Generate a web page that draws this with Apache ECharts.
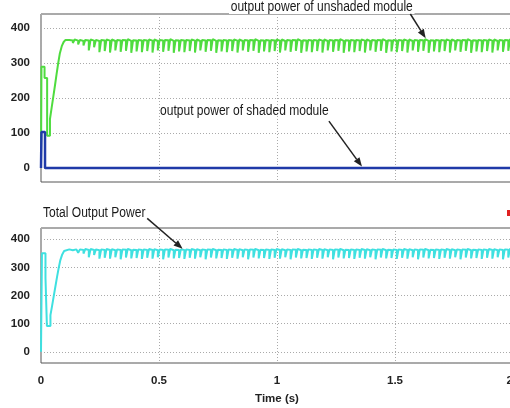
<!DOCTYPE html>
<html><head><meta charset="utf-8">
<script src="https://cdn.jsdelivr.net/npm/echarts@6/dist/echarts.min.js"></script>
<style>html,body{margin:0;padding:0;background:#fff}#c{width:510px;height:408px}</style>
</head><body><div id="c"></div>
<script>
// ---- data ----
const yTicks = [0, 100, 200, 300, 400];
const xTicks = [0, 0.5, 1, 1.5, 2];
const xLabel = 'Time (s)';

// start-up transients: [time (s), power (W)]
const unshadedStart = [[0,0],[0.002,289],[0.015,257],[0.026,92],[0.038,140],[0.045,172],[0.052,203],[0.059,235],[0.066,268],[0.073,300],[0.080,328],[0.088,348],[0.096,360],[0.104,366]];
const shadedStart = [[0,0],[0.002,103],[0.017,0],[2.05,0]];
const totalStart = [[0,0],[0.004,350],[0.019,262],[0.025,92],[0.040,130],[0.047,163],[0.054,198],[0.061,232],[0.068,266],[0.075,298],[0.082,326],[0.090,346],[0.098,358],[0.106,364]];

// steady-state ripple, sampled uniformly from steadyStartT every steadyDt seconds
const steadyStartT = 0.12;
const steadyDt = 0.0075;
const unshadedSteady = [
366,364,357,367,364,353, 366,363,350,366,364,336, 367,364,345,366,363,331,
366,364,334,367,364,330, 367,363,336,366,364,332, 366,365,335,368,363,329, 365,364,333,366,364,331,
366,364,334,367,364,330, 367,363,336,366,364,332, 366,365,335,368,363,329, 365,364,333,366,364,331,
366,364,334,367,364,330, 367,363,336,366,364,332, 366,365,335,368,363,329, 365,364,333,366,364,331,
366,364,334,367,364,330, 367,363,336,366,364,332, 366,365,335,368,363,329, 365,364,333,366,364,331,
366,364,334,367,364,330, 367,363,336,366,364,332, 366,365,335,368,363,329, 365,364,333,366,364,331,
366,364,334,367,364,330, 367,363,336,366,364,332, 366,365,335,368,363,329, 365,364,333,366,364,331,
366,364,334,367,364,330, 367,363,336,366,364,332, 366,365,335,368,363,329, 365,364,333,366,364,331,
366,364,334,367,364,330, 367,363,336,366,364,332, 366,365,335,368,363,329, 365,364,333,366,364,331,
366,364,334,367,364,330, 367,363,336,366,364,332, 366,365,335,368,363,329, 365,364,333,366,364,331,
366,364,334,367,364,330, 367,363,336,366,364,332, 366,365,335,368,363,329, 365,364,333,366,364,331,
366,364,334,367,364,330, 367,363,336,366,364,332, 366,365,335,368,363,329, 365,364,333,366,364,331
];
const totalSteady = [
363,361,356,364,362,352, 364,362,349,365,362,336, 365,362,344,364,361,331,
364,362,334,365,362,331, 365,361,336,364,362,329, 364,363,335,366,361,332, 363,362,333,364,362,330,
364,362,334,365,362,331, 365,361,336,364,362,329, 364,363,335,366,361,332, 363,362,333,364,362,330,
364,362,334,365,362,331, 365,361,336,364,362,329, 364,363,335,366,361,332, 363,362,333,364,362,330,
364,362,334,365,362,331, 365,361,336,364,362,329, 364,363,335,366,361,332, 363,362,333,364,362,330,
364,362,334,365,362,331, 365,361,336,364,362,329, 364,363,335,366,361,332, 363,362,333,364,362,330,
364,362,334,365,362,331, 365,361,336,364,362,329, 364,363,335,366,361,332, 363,362,333,364,362,330,
364,362,334,365,362,331, 365,361,336,364,362,329, 364,363,335,366,361,332, 363,362,333,364,362,330,
364,362,334,365,362,331, 365,361,336,364,362,329, 364,363,335,366,361,332, 363,362,333,364,362,330,
364,362,334,365,362,331, 365,361,336,364,362,329, 364,363,335,366,361,332, 363,362,333,364,362,330,
364,362,334,365,362,331, 365,361,336,364,362,329, 364,363,335,366,361,332, 363,362,333,364,362,330,
364,362,334,365,362,331, 365,361,336,364,362,329, 364,363,335,366,361,332, 363,362,333,364,362,330
];

// annotations: text and arrow [from, to] in data coordinates
const annUnshaded = {text: 'output power of unshaded module', from: [1.565, 440], to: [1.63, 371]};
const annShaded = {text: 'output power of shaded module', from: [1.22, 134], to: [1.36, 4]};
const annTotal = {text: 'Total Output Power', from: [0.45, 474], to: [0.60, 366]};

// ---- build ----
function withSteady(start, steady) {
  const out = start.slice();
  steady.forEach((v, i) => out.push([steadyStartT + i * steadyDt, v]));
  return out;
}
const FONT = "'Liberation Sans',Arial,sans-serif";
const chart = echarts.init(document.getElementById('c'), null, {renderer: 'canvas'});

function yAxis(gi) {
  return {
    type: 'value', gridIndex: gi, min: -40, max: 440, splitNumber: 5,
    axisLine: {show: false}, axisTick: {show: false},
    axisLabel: {show: true, showMinLabel: false, showMaxLabel: false, margin: 11,
      color: '#222', fontFamily: FONT, fontWeight: 'bold', fontSize: 11.5,
      formatter: v => yTicks.includes(v) ? String(v) : ''},
    splitLine: {show: true, lineStyle: {type: [1, 2], color: '#aaa', width: 1}}
  };
}
function xAxis(gi, labels) {
  return {
    type: 'value', gridIndex: gi, min: xTicks[0], max: xTicks[xTicks.length - 1], interval: 0.5,
    axisLine: {show: false}, axisTick: {show: false},
    axisLabel: {show: labels, showMaxLabel: true, showMinLabel: true, hideOverlap: false, alignMaxLabel: 'right',
      margin: 12, color: '#222', fontFamily: FONT, fontWeight: 'bold', fontSize: 11.5,
      formatter: v => String(v)},
    splitLine: {show: true, lineStyle: {type: [1, 2], color: '#aaa', width: 1}},
    name: labels ? xLabel : '', nameLocation: 'middle', nameGap: 30,
    nameTextStyle: {color: '#222', fontFamily: FONT, fontWeight: 'bold', fontSize: 11.5}
  };
}

chart.setOption({
  animation: false,
  backgroundColor: '#fff',
  grid: [
    {left: 41, top: 14, width: 472, height: 168, show: true, borderColor: '#555', borderWidth: 1, backgroundColor: '#fff', outerBoundsMode: 'none', containLabel: false},
    {left: 41, top: 228, width: 472, height: 135, show: true, borderColor: '#555', borderWidth: 1, backgroundColor: '#fff', outerBoundsMode: 'none', containLabel: false}
  ],
  xAxis: [xAxis(0, false), xAxis(1, true)],
  yAxis: [yAxis(0), yAxis(1)],
  series: [
    {type: 'line', xAxisIndex: 0, yAxisIndex: 0, step: 'end', showSymbol: false,
     data: withSteady(unshadedStart, unshadedSteady), lineStyle: {color: '#4fdc3f', width: 2}, z: 3},
    {type: 'line', xAxisIndex: 0, yAxisIndex: 0, step: 'end', showSymbol: false,
     data: shadedStart, lineStyle: {color: '#1f3aa8', width: 2.5}, z: 4},
    {type: 'line', xAxisIndex: 1, yAxisIndex: 1, step: 'end', showSymbol: false,
     data: withSteady(totalStart, totalSteady), lineStyle: {color: '#3fe0e0', width: 2}, z: 3}
  ]
});

function arrowEls(gi, a) {
  const p1 = chart.convertToPixel({gridIndex: gi}, a.from);
  const p2 = chart.convertToPixel({gridIndex: gi}, a.to);
  const dx = p2[0] - p1[0], dy = p2[1] - p1[1];
  const L = Math.sqrt(dx * dx + dy * dy), ux = dx / L, uy = dy / L;
  const hl = 9, hw = 3.5;
  const bx = p2[0] - ux * hl, by = p2[1] - uy * hl;
  return [
    {type: 'line', z: 100, shape: {x1: p1[0], y1: p1[1], x2: bx, y2: by}, style: {stroke: '#222', lineWidth: 1.5}},
    {type: 'polygon', z: 100, shape: {points: [[p2[0], p2[1]], [bx - uy * hw, by + ux * hw], [bx + uy * hw, by - ux * hw]]}, style: {fill: '#222'}}
  ];
}
const txtStyle = {fill: '#1a1a1a', fontFamily: FONT, fontSize: 14};
chart.setOption({
  graphic: [
    {type: 'text', z: 100, x: 229, y: 0, scaleX: 0.86, style: Object.assign({text: annUnshaded.text, backgroundColor: '#fff', padding: [0, 2]}, txtStyle)},
    {type: 'text', z: 100, x: 160, y: 104, scaleX: 0.86, style: Object.assign({text: annShaded.text}, txtStyle)},
    {type: 'text', z: 100, x: 43, y: 206, scaleX: 0.86, style: Object.assign({text: annTotal.text}, txtStyle)},
    {type: 'rect', z: 100, shape: {x: 507, y: 210, width: 5, height: 6}, style: {fill: '#e02020'}}
  ].concat(arrowEls(0, annUnshaded), arrowEls(0, annShaded), arrowEls(1, annTotal))
});
</script></body></html>
